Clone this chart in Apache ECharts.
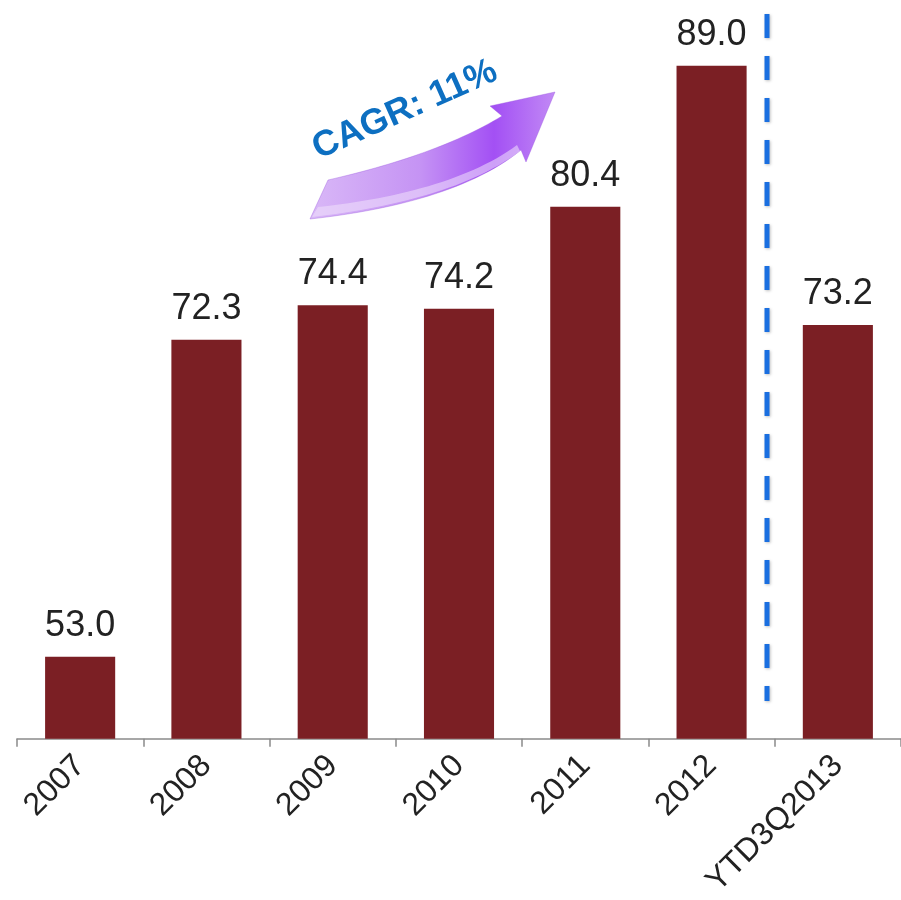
<!DOCTYPE html>
<html>
<head>
<meta charset="utf-8">
<script src="https://cdn.jsdelivr.net/npm/echarts@6/dist/echarts.min.js"></script>
<style>
  html, body { margin: 0; padding: 0; background: #ffffff; }
  #chart { width: 901px; height: 900px; }
</style>
</head>
<body>
<div id="chart"></div>
<script>
// Yearly values (last bar is year-to-date through Q3 2013)
const categories = ['2007', '2008', '2009', '2010', '2011', '2012', 'YTD3Q2013'];
const values = [53.0, 72.3, 74.4, 74.2, 80.4, 89.0, 73.2];
const cagrText = 'CAGR: 11%';

const chart = echarts.init(document.getElementById('chart'), null, { renderer: 'canvas' });

// Sample a cubic Bezier into a list of points
function cubic(p0, p1, p2, p3, n) {
  const pts = [];
  for (let i = 0; i <= n; i++) {
    const t = i / n, u = 1 - t;
    pts.push([
      u * u * u * p0[0] + 3 * u * u * t * p1[0] + 3 * u * t * t * p2[0] + t * t * t * p3[0],
      u * u * u * p0[1] + 3 * u * u * t * p1[1] + 3 * u * t * t * p2[1] + t * t * t * p3[1]
    ]);
  }
  return pts;
}

// Outline of the curved growth arrow
const lowerEdge = cubic([310, 219], [392, 210], [472, 190], [521, 150], 30);
const upperEdge = cubic([502, 116], [458, 143], [398, 164], [328, 180], 30);
const arrowPoints = lowerEdge
  .concat([[526, 162], [555, 92], [490, 106]])
  .concat(upperEdge);

// Lighter rim along the underside of the arrow
const rimOuter = cubic([312, 217], [392, 208], [472, 188], [520, 151], 30);
const rimInner = cubic([517, 145], [470, 180], [394, 199], [318, 207], 30);
const rimPoints = rimOuter.concat(rimInner);

const option = {
  animation: false,
  grid: { left: 17, right: 0, top: 0, bottom: 160, containLabel: false },
  xAxis: {
    type: 'category',
    data: categories,
    axisLine: { lineStyle: { color: '#8a8a8a', width: 1.5 } },
    axisTick: { show: true, length: 8, lineStyle: { color: '#8a8a8a', width: 1.5 } },
    axisLabel: {
      rotate: 45,
      margin: 22,
      fontSize: 32,
      fontFamily: 'Liberation Sans, Arial, sans-serif',
      color: '#222222',
      interval: 0
    }
  },
  yAxis: {
    type: 'value',
    min: 48,
    max: 93,
    show: false,
    splitLine: { show: false }
  },
  series: [{
    type: 'bar',
    data: values,
    barWidth: '55.5%',
    itemStyle: { color: '#7b1f24' },
    label: {
      show: true,
      position: 'top',
      distance: 13,
      fontSize: 36,
      fontFamily: 'Liberation Sans, Arial, sans-serif',
      color: '#222222',
      formatter: p => p.value.toFixed(1)
    }
  }],
  graphic: [
    {
      type: 'line',
      shape: { x1: 767, y1: -28, x2: 767, y2: 701 },
      style: {
        stroke: '#1a6fe0',
        lineWidth: 5,
        lineDash: [24, 18],
        shadowColor: 'rgba(0,0,0,0.25)',
        shadowBlur: 3,
        shadowOffsetX: 1,
        shadowOffsetY: 1
      },
      z: 10
    },
    {
      type: 'polygon',
      shape: { points: arrowPoints },
      style: {
        fill: {
          type: 'linear', x: 0, y: 0, x2: 1, y2: 0,
          colorStops: [
            { offset: 0, color: '#d9b8f7' },
            { offset: 0.45, color: '#c593f4' },
            { offset: 0.75, color: '#a350f4' },
            { offset: 1, color: '#c28af5' }
          ]
        },
        stroke: 'rgba(150,80,220,0.35)',
        lineWidth: 1
      },
      z: 10
    },
    {
      type: 'polygon',
      shape: { points: rimPoints },
      style: { fill: 'rgba(240,225,252,0.55)' },
      z: 11
    },
    {
      type: 'text',
      x: 405,
      y: 110,
      rotation: 24 * Math.PI / 180,
      style: {
        text: cagrText,
        fill: '#0d6fc1',
        fontSize: 36,
        fontWeight: 'bold',
        fontFamily: 'Liberation Sans, Arial, sans-serif',
        align: 'center',
        verticalAlign: 'middle'
      },
      z: 11
    }
  ]
};

chart.setOption(option);
</script>
</body>
</html>
